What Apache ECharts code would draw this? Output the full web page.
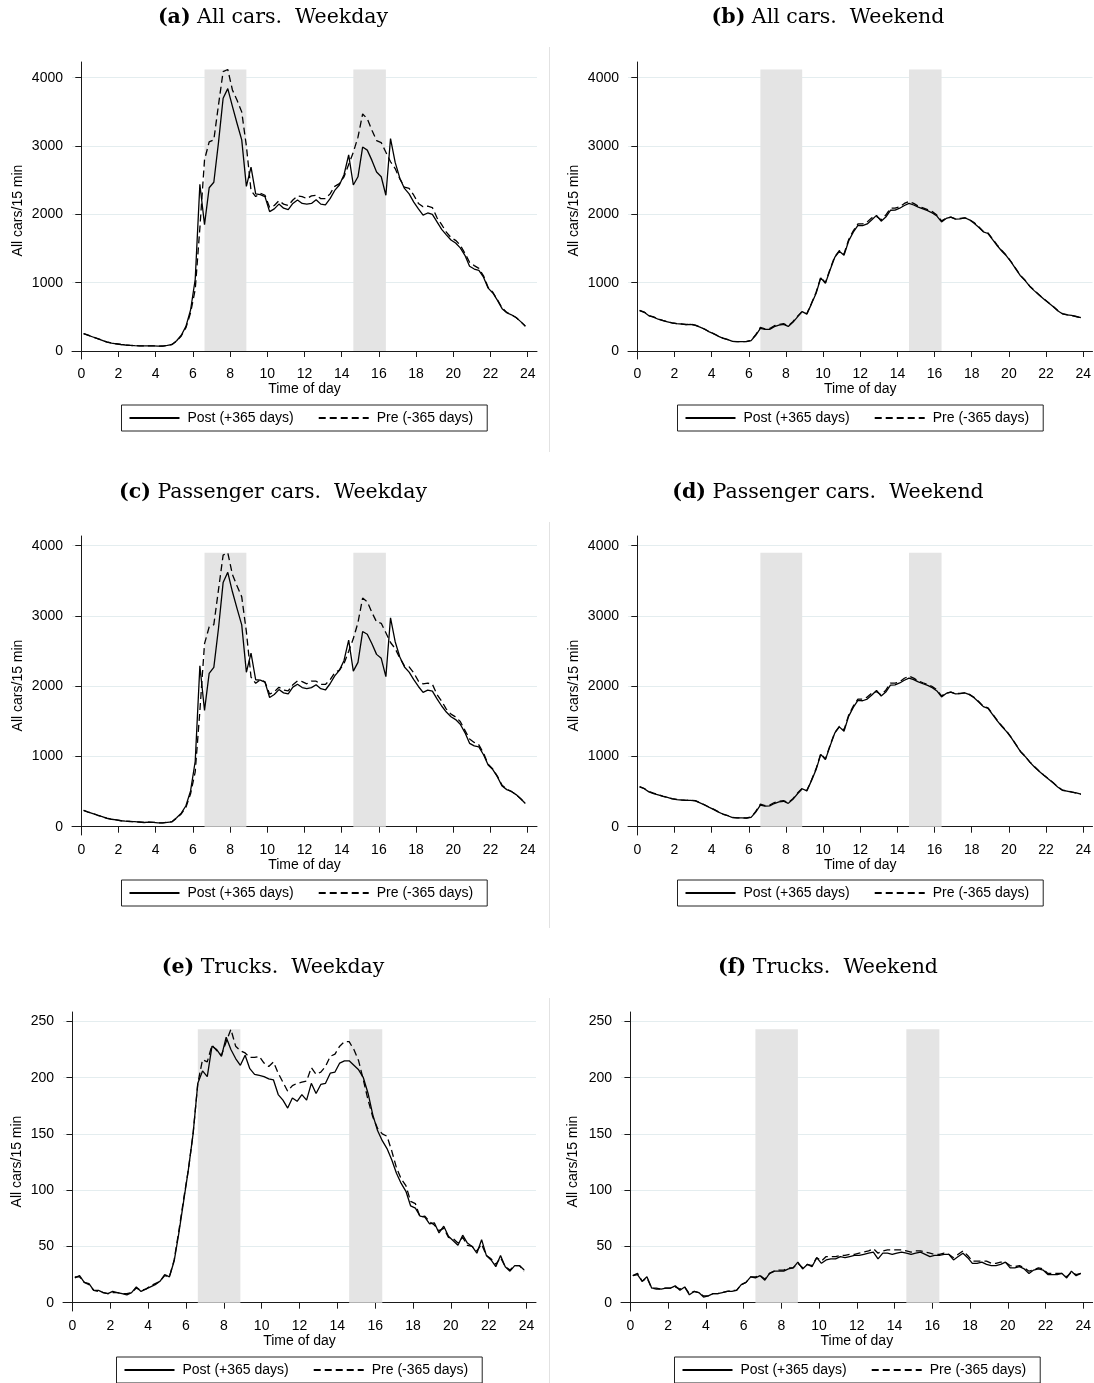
<!DOCTYPE html>
<html>
<head>
<meta charset="utf-8">
<script src="https://cdn.jsdelivr.net/npm/echarts@6/dist/echarts.min.js"></script>
<style>
html, body { margin: 0; padding: 0; background: #fff; }
#chart { width: 1094px; height: 1383px; }
</style>
</head>
<body>
<div id="chart"></div>
<script>
// 96 quarter-hour counts, plotted at the middle of each 15 min interval
const times = []
for (let i = 0; i < 96; i++) times.push(0.125 + i * 0.25)

const hourTicks = [0, 2, 4, 6, 8, 10, 12, 14, 16, 18, 20, 22, 24]
const carTicks = [0, 1000, 2000, 3000, 4000]
const truckTicks = [0, 50, 100, 150, 200, 250]

// rush hour windows (hours)
const rushHours = [[6.625, 8.875], [14.625, 16.375]]

const legendNames = ['Post (+365 days)', 'Pre (-365 days)']

// (a) all cars, weekday
const allWeekdayPost = [
  255, 230, 205, 180, 155, 130, 115, 105, 95, 88, 82, 78, 75, 74, 75, 74,
  70, 72, 82, 95, 150, 230, 360, 600, 1050, 2440, 1850, 2390, 2470, 3050, 3700, 3840,
  3580, 3330, 3090, 2410, 2690, 2300, 2290, 2260, 2040, 2080, 2150, 2090, 2070, 2160, 2210, 2160,
  2150, 2160, 2215, 2150, 2140, 2230, 2350, 2430, 2580, 2870, 2430, 2550, 2985, 2940, 2790, 2620,
  2550, 2280, 3110, 2760, 2530, 2380, 2300, 2180, 2080, 1990, 2020, 2000, 1890, 1780, 1700, 1625,
  1580, 1510, 1400, 1240, 1200, 1180, 1080, 920, 850, 740, 620, 560, 530, 490, 430, 360
]
const allWeekdayPre = [
  255, 232, 206, 182, 156, 132, 116, 106, 96, 88, 83, 79, 76, 75, 76, 75,
  71, 73, 83, 96, 145, 220, 340, 560, 900, 1800, 2800, 3060, 3090, 3600, 4090, 4120,
  3820, 3670, 3500, 3000, 2350, 2260, 2310, 2280, 2100, 2130, 2200, 2150, 2130, 2210, 2270, 2260,
  2230, 2270, 2280, 2230, 2230, 2300, 2410, 2450, 2550, 2730, 2910, 3130, 3470, 3400, 3230, 3080,
  3050, 2910, 2770, 2670, 2520, 2400, 2380, 2280, 2160, 2110, 2120, 2100, 1950, 1850, 1740, 1660,
  1620, 1550, 1430, 1300, 1250, 1210, 1100, 930, 860, 750, 630, 565, 530, 490, 430, 365
]

// (b) all cars, weekend
const allWeekendPost = [
  590, 566, 515, 495, 465, 445, 428, 410, 400, 395, 385, 390, 375, 350, 318, 280,
  250, 215, 185, 165, 140, 137, 137, 137, 151, 230, 330, 317, 317, 356, 380, 390,
  360, 420, 500, 576, 540, 690, 845, 1070, 990, 1185, 1370, 1460, 1400, 1610, 1740, 1840,
  1835, 1860, 1920, 1985, 1900, 1960, 2060, 2063, 2090, 2130, 2160, 2137, 2105, 2080, 2055, 2020,
  1975, 1890, 1940, 1960, 1930, 1935, 1950, 1920, 1870, 1810, 1745, 1720, 1630, 1540, 1460, 1390,
  1300, 1200, 1100, 1030, 945, 880, 820, 760, 705, 650, 590, 545, 530, 520, 505, 490
]
const allWeekendPre = [
  595, 570, 520, 500, 470, 448, 430, 412, 402, 396, 388, 392, 378, 352, 320, 283,
  252, 218, 187, 167, 142, 138, 138, 140, 155, 240, 345, 325, 330, 370, 390, 400,
  370, 430, 510, 580, 545, 700, 860, 1080, 1000, 1200, 1380, 1470, 1420, 1630, 1760, 1860,
  1860, 1890, 1950, 1970, 1920, 1990, 2090, 2090, 2110, 2160, 2190, 2160, 2120, 2095, 2070, 2040,
  1990, 1905, 1945, 1960, 1935, 1940, 1950, 1925, 1880, 1820, 1750, 1730, 1640, 1550, 1470, 1400,
  1305, 1205, 1105, 1035, 950, 885, 825, 765, 710, 655, 595, 548, 532, 522, 502, 488
]

// (c) passenger cars, weekday
const passWeekdayPost = [
  233, 206, 187, 163, 144, 119, 106, 97, 85, 79, 74, 71, 66, 60, 65, 62,
  56, 56, 63, 70, 127, 193, 298, 510, 932, 2290, 1655, 2184, 2269, 2822, 3475, 3621,
  3344, 3105, 2873, 2199, 2470, 2092, 2087, 2058, 1839, 1881, 1952, 1905, 1890, 1987, 2028, 1981,
  1965, 1980, 2020, 1964, 1946, 2035, 2146, 2225, 2367, 2655, 2215, 2339, 2778, 2740, 2604, 2453,
  2397, 2136, 2973, 2633, 2415, 2274, 2201, 2094, 1996, 1913, 1944, 1930, 1819, 1718, 1632, 1566,
  1525, 1459, 1340, 1187, 1150, 1136, 1024, 878, 812, 708, 578, 528, 502, 457, 397, 331
]
const passWeekdayPre = [
  232, 209, 188, 166, 145, 122, 107, 98, 87, 79, 75, 71, 67, 62, 65, 63,
  56, 56, 64, 72, 122, 182, 276, 468, 782, 1650, 2605, 2844, 2876, 3371, 3866, 3900,
  3588, 3427, 3272, 2776, 2128, 2042, 2092, 2061, 1887, 1920, 1986, 1946, 1934, 2022, 2077, 2065,
  2034, 2073, 2071, 2027, 2025, 2090, 2191, 2229, 2322, 2498, 2678, 2905, 3255, 3202, 3050, 2915,
  2895, 2760, 2622, 2535, 2400, 2290, 2276, 2190, 2072, 2034, 2043, 2028, 1881, 1786, 1674, 1602,
  1563, 1497, 1372, 1249, 1200, 1164, 1048, 888, 821, 716, 590, 533, 501, 457, 397, 337
]

// (d) passenger cars, weekend
const passWeekendPost = [
  566, 541, 496, 472, 452, 432, 416, 397, 387, 380, 374, 376, 368, 340, 309, 275,
  244, 207, 177, 156, 130, 127, 126, 121, 133, 207, 308, 293, 297, 330, 352, 362,
  332, 390, 469, 540, 510, 656, 813, 1030, 955, 1147, 1331, 1421, 1359, 1570, 1699, 1798,
  1793, 1817, 1876, 1940, 1861, 1916, 2016, 2020, 2046, 2085, 2116, 2094, 2061, 2035, 2012, 1979,
  1933, 1848, 1897, 1917, 1892, 1894, 1906, 1880, 1835, 1775, 1709, 1686, 1597, 1507, 1426, 1354,
  1269, 1169, 1068, 1000, 919, 851, 790, 731, 680, 625, 565, 519, 508, 492, 481, 464
]
const passWeekendPre = [
  571, 544, 501, 478, 457, 436, 418, 399, 389, 382, 376, 378, 370, 342, 311, 277,
  246, 210, 179, 158, 132, 127, 127, 124, 137, 217, 322, 301, 309, 344, 362, 371,
  341, 399, 479, 545, 514, 666, 827, 1040, 963, 1159, 1339, 1429, 1378, 1588, 1717, 1817,
  1816, 1845, 1904, 1922, 1876, 1944, 2043, 2043, 2063, 2113, 2144, 2115, 2074, 2049, 2025, 1996,
  1947, 1862, 1901, 1917, 1895, 1897, 1904, 1883, 1843, 1783, 1713, 1693, 1605, 1515, 1434, 1364,
  1272, 1173, 1072, 1004, 922, 856, 794, 735, 684, 629, 569, 522, 509, 495, 477, 462
]

// (e) trucks, weekday
const truckWeekdayPost = [
  22, 24, 18, 17, 11, 11, 9, 8, 10, 9, 8, 7, 9, 14, 10, 12,
  14, 16, 19, 25, 23, 37, 62, 90, 118, 150, 195, 206, 201, 228, 225, 219,
  236, 225, 217, 211, 220, 208, 203, 202, 201, 199, 198, 185, 180, 173, 182, 179,
  185, 180, 195, 186, 194, 195, 204, 205, 213, 215, 215, 211, 207, 200, 186, 167,
  153, 144, 137, 127, 115, 106, 99, 86, 84, 77, 76, 70, 71, 62, 68, 59,
  55, 51, 60, 53, 50, 44, 56, 42, 38, 32, 42, 32, 28, 33, 33, 29
]
const truckWeekdayPre = [
  23, 23, 18, 16, 11, 10, 9, 8, 9, 9, 8, 8, 9, 13, 11, 12,
  15, 17, 19, 24, 23, 38, 64, 92, 118, 150, 195, 216, 214, 229, 224, 220,
  232, 243, 228, 224, 222, 218, 218, 219, 213, 210, 214, 204, 196, 188, 193, 195,
  196, 197, 209, 203, 205, 210, 219, 221, 228, 232, 232, 225, 215, 198, 180, 165,
  155, 150, 148, 135, 120, 110, 104, 90, 88, 76, 77, 72, 69, 64, 66, 58,
  57, 53, 58, 51, 50, 46, 52, 42, 39, 34, 40, 32, 29, 33, 33, 28
]

// (f) trucks, weekend
const truckWeekendPost = [
  24, 25, 19, 23, 13, 13, 12, 13, 13, 15, 11, 14, 7, 10, 9, 5,
  6, 8, 8, 9, 10, 10, 11, 16, 18, 23, 22, 24, 20, 26, 28, 28,
  28, 30, 31, 36, 30, 34, 32, 40, 35, 38, 39, 39, 41, 40, 41, 42,
  42, 43, 44, 45, 39, 44, 44, 43, 44, 45, 44, 43, 44, 45, 43, 41,
  42, 42, 43, 43, 38, 41, 44, 40, 35, 35, 36, 34, 33, 33, 34, 36,
  31, 31, 32, 30, 26, 29, 30, 29, 25, 25, 25, 26, 22, 28, 24, 26
]
const truckWeekendPre = [
  24, 26, 19, 22, 13, 12, 12, 13, 13, 14, 12, 14, 8, 10, 9, 6,
  6, 8, 8, 9, 10, 11, 11, 16, 18, 23, 23, 24, 21, 26, 28, 29,
  29, 31, 31, 35, 31, 34, 33, 40, 37, 41, 41, 41, 42, 42, 43, 43,
  44, 45, 46, 48, 44, 46, 47, 47, 47, 47, 46, 45, 46, 46, 45, 44,
  43, 43, 44, 43, 40, 43, 46, 42, 37, 37, 37, 37, 35, 35, 36, 36,
  33, 32, 33, 31, 28, 29, 31, 30, 26, 26, 26, 26, 23, 27, 25, 26
]

const SANS = '"Liberation Sans", Arial, Helvetica, sans-serif'
const SERIF = '"DejaVu Serif", "Liberation Serif", serif'
const AXIS_COLOR = '#1a1a1a'
const GRID_COLOR = '#e4edef'
const SHADE_COLOR = '#e4e4e4'

const panels = [
  { tag: '(a)', title: 'All cars.  Weekday', post: allWeekdayPost, pre: allWeekdayPre, shadeFrom: allWeekdayPre,
    grid: { left: 72, top: 62, width: 465, height: 297 }, yMin: -117, yMax: 4230, ticks: carTicks,
    nameGap: 47, titleX: 273, titleY: 18, legendTop: 405 },
  { tag: '(b)', title: 'All cars.  Weekend', post: allWeekendPost, pre: allWeekendPre, shadeFrom: allWeekdayPre,
    grid: { left: 628, top: 62, width: 465, height: 297 }, yMin: -117, yMax: 4230, ticks: carTicks,
    nameGap: 47, titleX: 828, titleY: 18, legendTop: 405 },
  { tag: '(c)', title: 'Passenger cars.  Weekday', post: passWeekdayPost, pre: passWeekdayPre, shadeFrom: passWeekdayPre,
    grid: { left: 72, top: 536, width: 465, height: 299 }, yMin: -118, yMax: 4138, ticks: carTicks,
    nameGap: 47, titleX: 273, titleY: 493, legendTop: 880 },
  { tag: '(d)', title: 'Passenger cars.  Weekend', post: passWeekendPost, pre: passWeekendPre, shadeFrom: passWeekdayPre,
    grid: { left: 628, top: 536, width: 465, height: 299 }, yMin: -118, yMax: 4138, ticks: carTicks,
    nameGap: 47, titleX: 828, titleY: 493, legendTop: 880 },
  { tag: '(e)', title: 'Trucks.  Weekday', post: truckWeekdayPost, pre: truckWeekdayPre, shadeFrom: truckWeekdayPre,
    grid: { left: 63, top: 1012, width: 473, height: 299 }, yMin: -7.4, yMax: 258.4, ticks: truckTicks,
    nameGap: 38.5, titleX: 273, titleY: 968, legendTop: 1357 },
  { tag: '(f)', title: 'Trucks.  Weekend', post: truckWeekendPost, pre: truckWeekendPre, shadeFrom: truckWeekdayPre,
    grid: { left: 621, top: 1012, width: 473, height: 299 }, yMin: -7.4, yMax: 258.4, ticks: truckTicks,
    nameGap: 41, titleX: 828, titleY: 968, legendTop: 1357 }
]

const toPairs = (values) => values.map((v, i) => [times[i], v])

const buildOption = () => {
  const grid = []
  const xAxis = []
  const yAxis = []
  const series = []
  const legend = []
  const graphic = []

  panels.forEach((p, i) => {
    grid.push({ ...p.grid, containLabel: false })

    xAxis.push({
      type: 'value',
      gridIndex: i,
      min: -0.5,
      max: 24.5,
      name: 'Time of day',
      nameLocation: 'middle',
      nameGap: 23,
      nameTextStyle: { fontFamily: SANS, fontSize: 14, color: '#000' },
      axisLine: { lineStyle: { color: AXIS_COLOR, width: 1 } },
      axisTick: { customValues: hourTicks, length: 6, lineStyle: { color: AXIS_COLOR } },
      axisLabel: { customValues: hourTicks, margin: 8, fontFamily: SANS, fontSize: 14, color: '#000' },
      splitLine: { show: false }
    })

    yAxis.push({
      type: 'value',
      gridIndex: i,
      min: p.yMin,
      max: p.yMax,
      name: 'All cars/15 min',
      nameLocation: 'middle',
      nameGap: p.nameGap,
      nameTextStyle: { fontFamily: SANS, fontSize: 14, color: '#000' },
      axisLine: { show: true, lineStyle: { color: AXIS_COLOR, width: 1 } },
      axisTick: { show: true, customValues: p.ticks, length: 6, lineStyle: { color: AXIS_COLOR } },
      axisLabel: {
        customValues: p.ticks,
        margin: 9,
        fontFamily: SANS,
        fontSize: 14,
        color: '#000',
        formatter: (v) => String(v)
      },
      splitLine: { show: true, lineStyle: { color: GRID_COLOR, width: 1 } }
    })

    const shadeTop = Math.max(...p.shadeFrom)
    series.push({
      name: 'rush',
      type: 'line',
      xAxisIndex: i,
      yAxisIndex: i,
      data: [],
      silent: true,
      z: 1,
      markArea: {
        silent: true,
        itemStyle: { color: SHADE_COLOR },
        label: { show: false },
        data: rushHours.map(([from, to]) => [
          { xAxis: from, yAxis: 0 },
          { xAxis: to, yAxis: shadeTop }
        ])
      }
    })
    series.push({
      name: legendNames[0],
      type: 'line',
      xAxisIndex: i,
      yAxisIndex: i,
      data: toPairs(p.post),
      showSymbol: false,
      symbol: 'none',
      z: 4,
      lineStyle: { color: '#000', width: 1.3 },
      itemStyle: { color: '#000' }
    })
    series.push({
      name: legendNames[1],
      type: 'line',
      xAxisIndex: i,
      yAxisIndex: i,
      data: toPairs(p.pre),
      showSymbol: false,
      symbol: 'none',
      z: 3,
      lineStyle: { color: '#000', width: 1.3, type: [7, 4] },
      itemStyle: { color: '#000' }
    })

    const plotCenter = p.grid.left + p.grid.width / 2
    legend.push({
      left: plotCenter - 183,
      top: p.legendTop,
      data: legendNames,
      selectedMode: false,
      orient: 'horizontal',
      itemWidth: 50,
      itemHeight: 14,
      itemGap: 24,
      padding: [6, 14, 6, 7],
      borderColor: '#222',
      borderWidth: 1,
      borderRadius: 0,
      // hide the circle that line series put in the middle of the legend icon
      itemStyle: { opacity: 0 },
      lineStyle: { opacity: 1 },
      textStyle: { fontFamily: SANS, fontSize: 14, color: '#000', padding: [0, 0, 0, 3] }
    })

    graphic.push({
      type: 'text',
      x: p.titleX,
      y: p.titleY,
      style: {
        text: '{b|' + p.tag + '} ' + p.title,
        fontFamily: SERIF,
        fontSize: 20.5,
        fill: '#000',
        align: 'center',
        verticalAlign: 'middle',
        rich: { b: { fontFamily: SERIF, fontSize: 20.5, fontWeight: 'bold', fill: '#000' } }
      }
    })
  })

  // thin frame edge between the two columns
  ;[[47, 452], [522, 928], [998, 1383]].forEach(([y1, y2]) => {
    graphic.push({
      type: 'line',
      shape: { x1: 549.5, y1, x2: 549.5, y2 },
      style: { stroke: '#e2e2e2', lineWidth: 1 }
    })
  })

  return {
    animation: false,
    backgroundColor: '#fff',
    grid,
    xAxis,
    yAxis,
    legend,
    graphic,
    series
  }
}

const chart = echarts.init(document.getElementById('chart'), null, { renderer: 'canvas' })
chart.setOption(buildOption())
</script>
</body>
</html>
